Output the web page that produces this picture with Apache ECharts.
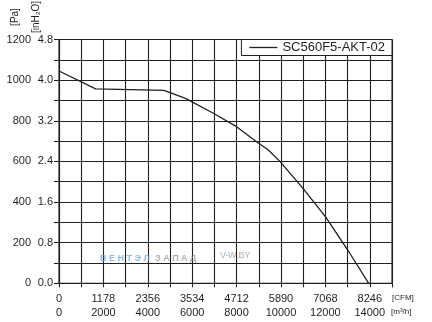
<!DOCTYPE html>
<html>
<head>
<meta charset="utf-8">
<script src="https://cdn.jsdelivr.net/npm/echarts@6/dist/echarts.min.js"></script>
<style>
  html, body { margin: 0; padding: 0; background: #fff; }
  #chart { width: 432px; height: 322px; }
</style>
</head>
<body>
<div id="chart"></div>
<script>
// Fan performance curve: static pressure vs. air flow
const seriesName = 'SC560F5-AKT-02';
const flowM3h    = [0, 1650, 4730, 5700, 6950, 8000, 8900, 9430, 9950, 11000, 12000, 13000, 13950];
const pressurePa = [1045, 957, 950, 910, 837, 771, 697, 656, 600, 466, 328, 165, 0];

// Tick labels: air flow in m³/h with CFM equivalents, pressure in Pa with inH2O equivalents
const flowTicksM3h = [0, 2000, 4000, 6000, 8000, 10000, 12000, 14000];
const flowTicksCfm = ['0', '1178', '2356', '3534', '4712', '5890', '7068', '8246'];
const pressureTicksPa = [0, 200, 400, 600, 800, 1000, 1200];
const pressureTicksInH2O = ['0.0', '0.8', '1.6', '2.4', '3.2', '4.0', '4.8'];

const INK = '#231f20';
const FONT = '"Liberation Sans", Arial, sans-serif';

const chart = echarts.init(document.getElementById('chart'), null, { renderer: 'canvas' });

chart.setOption({
  animation: false,
  backgroundColor: '#fff',
  grid: {
    left: 59, right: 40, top: 39.5, bottom: 38.7,
    show: true, borderColor: INK, borderWidth: 1.1, backgroundColor: 'transparent'
  },
  legend: {
    data: [{ name: seriesName, icon: 'rect' }],
    right: 40, top: 39.5,
    backgroundColor: '#fff',
    borderColor: INK, borderWidth: 1, borderRadius: 0,
    padding: [1, 7, 1, 8],
    itemWidth: 28, itemHeight: 1.3,
    itemStyle: { color: INK },
    textStyle: { fontSize: 13, color: INK, fontFamily: FONT, lineHeight: 14 }
  },
  xAxis: {
    type: 'value', min: 0, max: 15000, interval: 1000,
    axisLine: { show: true, onZero: false, lineStyle: { color: INK, width: 1.1 } },
    axisTick: { show: true, length: 4, lineStyle: { color: INK, width: 1.1 } },
    splitLine: { show: true, lineStyle: { color: INK, width: 1.1 } },
    axisLabel: {
      margin: 9, color: INK, fontFamily: FONT, fontSize: 11, lineHeight: 13.5,
      formatter: function (v) {
        const i = flowTicksM3h.indexOf(v);
        if (i < 0) return '';
        return '{c|' + flowTicksCfm[i] + '}\n{m|' + v + '}';
      },
      rich: {
        c: { fontSize: 11, fontFamily: FONT, color: INK, lineHeight: 13.5 },
        m: { fontSize: 11, fontFamily: FONT, color: INK, lineHeight: 13.5 }
      }
    }
  },
  yAxis: {
    type: 'value', min: 0, max: 1200, interval: 100,
    axisLine: { show: true, lineStyle: { color: INK, width: 1.1 } },
    axisTick: { show: true, length: 5, lineStyle: { color: INK, width: 1.1 } },
    splitLine: { show: true, lineStyle: { color: INK, width: 1.1 } },
    axisLabel: {
      margin: 6, color: INK, fontFamily: FONT, fontSize: 11,
      formatter: function (v) {
        const i = pressureTicksPa.indexOf(v);
        if (i < 0) return '';
        return '{p|' + v + '}{w|' + pressureTicksInH2O[i] + '}';
      },
      rich: {
        p: { width: 30, align: 'right', fontSize: 11, fontFamily: FONT, color: INK },
        w: { width: 22, align: 'right', fontSize: 11, fontFamily: FONT, color: INK }
      }
    }
  },
  series: [{
    name: seriesName,
    type: 'line',
    symbol: 'none',
    data: flowM3h.map(function (f, i) { return [f, pressurePa[i]]; }),
    lineStyle: { color: INK, width: 1.3 },
    itemStyle: { color: INK },
    z: 5
  }],
  graphic: [
    { type: 'text', x: 15, y: 17, rotation: Math.PI / 2,
      style: { text: '[Pa]', fontSize: 10, fontFamily: FONT, fill: INK, align: 'center', verticalAlign: 'middle' } },
    { type: 'text', x: 36, y: 17, rotation: Math.PI / 2,
      style: { text: '[inH\u2082O]', fontSize: 10, fontFamily: FONT, fill: INK, align: 'center', verticalAlign: 'middle' } },
    { type: 'text', x: 392, y: 298,
      style: { text: '[CFM]', fontSize: 8, fontFamily: FONT, fill: INK, align: 'left', verticalAlign: 'middle' } },
    { type: 'text', x: 391, y: 312,
      style: { text: '[m\u00b3/h]', fontSize: 8, fontFamily: FONT, fill: INK, align: 'left', verticalAlign: 'middle' } },
    // faint brand marks
    { type: 'text', x: 100, y: 259, z: 1,
      style: { text: 'В Е Н Т Э Л', fontSize: 9, fontWeight: 'bold', fontFamily: FONT, fill: 'rgba(90,160,215,0.7)', align: 'left', verticalAlign: 'middle' } },
    { type: 'text', x: 155, y: 259, z: 1,
      style: { text: 'З А П А Д', fontSize: 9, fontWeight: 'bold', fontFamily: FONT, fill: 'rgba(120,120,120,0.6)', align: 'left', verticalAlign: 'middle' } },
    { type: 'text', x: 220, y: 256, z: 1,
      style: { text: 'V-', fontSize: 9, fontFamily: FONT, fill: 'rgba(90,160,215,0.7)', align: 'left', verticalAlign: 'middle' } },
    { type: 'text', x: 228, y: 256, z: 1,
      style: { text: 'W.BY', fontSize: 9, fontFamily: FONT, fill: 'rgba(120,120,120,0.6)', align: 'left', verticalAlign: 'middle' } }
  ]
});
</script>
</body>
</html>
